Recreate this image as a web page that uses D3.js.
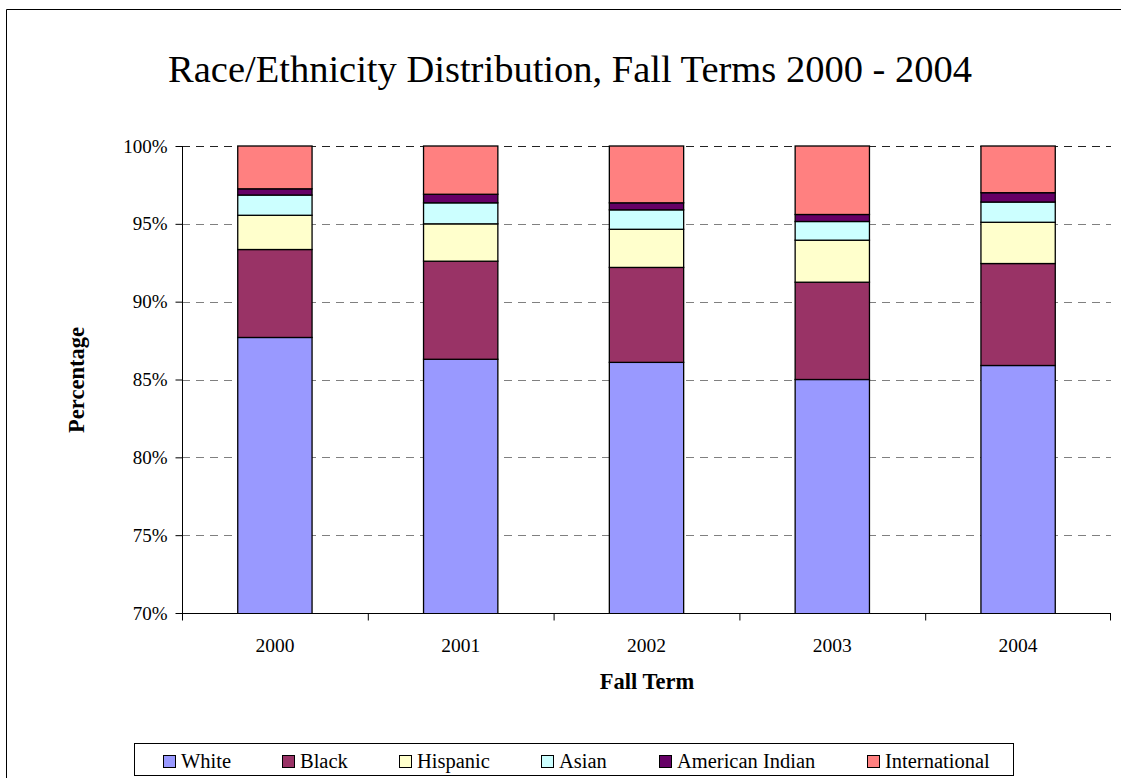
<!DOCTYPE html>
<html>
<head>
<meta charset="utf-8">
<script src="https://cdn.jsdelivr.net/npm/d3@7"></script>
<style>
  html, body { margin: 0; background: #fff; overflow: hidden; }
  svg { display: block; }
  svg text { font-family: "Liberation Serif", "Times New Roman", serif !important; fill: #000; }
</style>
</head>
<body>
<div id="chart"></div>
<script>
// values (percent of fall enrollment)
var years = ["2000", "2001", "2002", "2003", "2004"];
var groups = ["White", "Black", "Hispanic", "Asian", "American Indian", "International"];
var white          = [87.7, 86.3, 86.1, 85.0, 85.9];
var black          = [5.65, 6.3, 6.1, 6.25, 6.55];
var hispanic       = [2.2, 2.4, 2.45, 2.7, 2.65];
var asian          = [1.3, 1.35, 1.25, 1.2, 1.3];
var americanIndian = [0.4, 0.55, 0.45, 0.45, 0.6];
var international  = [2.75, 3.1, 3.65, 4.4, 3.0];
var yTicks = [70, 75, 80, 85, 90, 95, 100];
var palette = ["#9999ff", "#993366", "#ffffcc", "#ccffff", "#660066", "#ff8080"];

var series = [white, black, hispanic, asian, americanIndian, international];
var rows = years.map(function(yr, i) {
  var r = { year: yr };
  groups.forEach(function(g, j) { r[g] = series[j][i]; });
  return r;
});

var width = 1121, height = 778;
var svg = d3.select("#chart").append("svg")
    .attr("width", width)
    .attr("height", height);

// outer chart frame: only the left and top edges are inside the window
svg.append("path")
    .attr("d", "M6.5," + height + "V9.5H" + width)
    .attr("fill", "none").attr("stroke", "#000").attr("stroke-width", 1);

var plotLeft = 182, plotRight = 1111, plotTop = 146, plotBottom = 613;

var x = d3.scaleBand().domain(years).range([plotLeft, plotRight]).paddingInner(0.6).paddingOuter(0.3);
var xCat = d3.scaleBand().domain(years).range([plotLeft, plotRight]);
var y = d3.scaleLinear().domain([70, 100]).range([plotBottom, plotTop]);

// gridlines
svg.append("g")
    .selectAll("line")
    .data(yTicks.filter(function(t) { return t > 70 && t < 100; }))
    .enter().append("line")
    .attr("x1", plotLeft).attr("x2", plotRight)
    .attr("y1", function(d) { return Math.round(y(d)) + 0.5; })
    .attr("y2", function(d) { return Math.round(y(d)) + 0.5; })
    .attr("stroke", "#808080")
    .attr("stroke-dasharray", "8,6");

// top line at 100%
svg.append("line")
    .attr("x1", plotLeft).attr("x2", plotRight)
    .attr("y1", plotTop + 0.5).attr("y2", plotTop + 0.5)
    .attr("stroke", "#222").attr("stroke-dasharray", "8,6");

// stacked bars, clipped at the 70% floor
var stack = d3.stack().keys(groups)(rows);
svg.append("clipPath").attr("id", "plotclip")
  .append("rect").attr("x", plotLeft).attr("y", plotTop - 2)
  .attr("width", plotRight - plotLeft).attr("height", plotBottom - plotTop + 2);

var layer = svg.append("g").attr("clip-path", "url(#plotclip)")
    .selectAll("g")
    .data(stack)
    .enter().append("g")
    .attr("fill", function(d, i) { return palette[i]; });

layer.selectAll("rect")
    .data(function(d) { return d; })
    .enter().append("rect")
    .attr("x", function(d) { return x(d.data.year); })
    .attr("y", function(d) { return y(d[1]); })
    .attr("width", x.bandwidth())
    .attr("height", function(d) { return y(d[0]) - y(d[1]); })
    .attr("stroke", "#000")
    .attr("stroke-width", 1.3);

// y axis
var yAxis = d3.axisLeft(y).tickValues(yTicks).tickSize(7).tickPadding(8)
    .tickFormat(function(d) { return d + "%"; });
var ya = svg.append("g").attr("transform", "translate(" + (plotLeft + 0.5) + ",0)").call(yAxis);
ya.selectAll("text").style("font-size", "19px");
ya.selectAll("line, path").attr("stroke", "#000");
ya.select(".domain").attr("d", "M0," + plotTop + "V" + (plotBottom + 0.5));

// x axis: ticks at category boundaries
var xa = svg.append("g").attr("transform", "translate(0," + (plotBottom + 0.5) + ")");
xa.append("line").attr("x1", plotLeft).attr("x2", plotRight).attr("stroke", "#000");
xa.selectAll(".tk")
    .data(years.concat(["end"]))
    .enter().append("line")
    .attr("x1", function(d, i) { return i < years.length ? xCat(d) + 0.5 : plotRight - 0.5; })
    .attr("x2", function(d, i) { return i < years.length ? xCat(d) + 0.5 : plotRight - 0.5; })
    .attr("y1", 0).attr("y2", 7)
    .attr("stroke", "#000");
xa.selectAll("text")
    .data(years)
    .enter().append("text")
    .attr("x", function(d) { return xCat(d) + xCat.bandwidth() / 2; })
    .attr("y", 38)
    .attr("text-anchor", "middle")
    .style("font-size", "19.5px")
    .text(function(d) { return d; });

// titles
svg.append("text")
    .attr("x", 570).attr("y", 82)
    .attr("text-anchor", "middle")
    .style("font-size", "38.5px")
    .text("Race/Ethnicity Distribution, Fall Terms 2000 - 2004");

svg.append("text")
    .attr("x", 647).attr("y", 689)
    .attr("text-anchor", "middle")
    .style("font-size", "22.5px").style("font-weight", "bold")
    .text("Fall Term");

svg.append("text")
    .attr("transform", "translate(84,380) rotate(-90)")
    .attr("text-anchor", "middle")
    .style("font-size", "22.5px").style("font-weight", "bold")
    .text("Percentage");

// legend
var lg = svg.append("g");
lg.append("rect")
    .attr("x", 134.5).attr("y", 743.5)
    .attr("width", 879).attr("height", 32)
    .attr("fill", "#fff").attr("stroke", "#000");
var legendX = [163, 282, 399, 541, 659, 867];
var item = lg.selectAll(".item")
    .data(groups)
    .enter().append("g")
    .attr("transform", function(d, i) { return "translate(" + legendX[i] + ",755)"; });
item.append("rect")
    .attr("x", 0.5).attr("y", 0.5)
    .attr("width", 12).attr("height", 12)
    .attr("fill", function(d, i) { return palette[i]; })
    .attr("stroke", "#000");
item.append("text")
    .attr("x", 18).attr("y", 13)
    .style("font-size", "20.5px")
    .text(function(d) { return d; });
</script>
</body>
</html>
